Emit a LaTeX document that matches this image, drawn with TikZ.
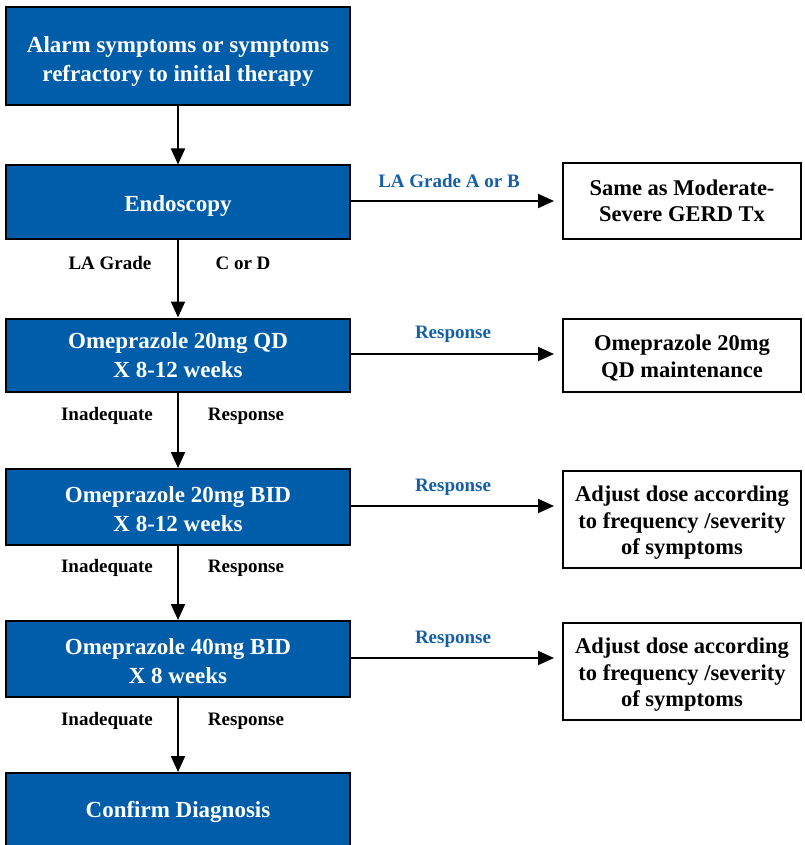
\documentclass[tikz,border=0pt]{standalone}
\usepackage{fontspec}
\setmainfont{Liberation Serif}
\usetikzlibrary{arrows.meta}
\definecolor{boxblue}{RGB}{0,93,170}
\definecolor{lblblue}{RGB}{20,95,170}
\begin{document}
\begin{tikzpicture}[x=1pt,y=-1pt,
  bluebox/.style={draw=black,line width=2pt,fill=boxblue,minimum width=344pt,inner sep=0pt},
  bluetxt/.style={text=white,font=\bfseries\fontsize{23}{29}\selectfont,align=center,inner sep=0pt},
  whitebox/.style={draw=black,line width=2pt,fill=white,minimum width=238pt,inner sep=0pt},
  whitetxt/.style={text=black,font=\bfseries\fontsize{22.5}{26.5}\selectfont,align=center,inner sep=0pt},
  arr/.style={line width=2pt,-{Triangle[length=16pt,width=14pt]}},
  lbl/.style={font=\bfseries\fontsize{19}{22}\selectfont,text=black},
  blbl/.style={font=\bfseries\fontsize{19}{22}\selectfont,text=lblblue}]
\useasboundingbox (0,0) rectangle (804,845);
\clip (0,0) rectangle (804,845);
% blue boxes
\node[bluebox,minimum height=98pt] (b1) at (178,56) {};
\node[bluebox,minimum height=73pt] (b2) at (178,202) {};
\node[bluebox,minimum height=73pt] (b3) at (178,355) {};
\node[bluebox,minimum height=76pt] (b4) at (178,507) {};
\node[bluebox,minimum height=76pt] (b5) at (178,659) {};
\node[bluebox,minimum height=80pt,anchor=north] (b6) at (178,772) {};
\node[bluetxt] (t1) at ([yshift=-6pt]b1.center) {Alarm symptoms or symptoms\\refractory to initial therapy};
\node[bluetxt] (t2) at ([yshift=-4pt]b2.center) {Endoscopy};
\node[bluetxt] (t3) at ([yshift=0pt]b3.center) {Omeprazole 20mg QD\\X 8-12 weeks};
\node[bluetxt] (t4) at ([yshift=-2pt]b4.center) {Omeprazole 20mg BID\\X 8-12 weeks};
\node[bluetxt] (t5) at ([yshift=-2pt]b5.center) {Omeprazole 40mg BID\\X 8 weeks};
\node[bluetxt] (t6) at (178,812) {Confirm Diagnosis};
% white boxes
\node[whitebox,minimum height=75pt] (r1) at (682,201) {};
\node[whitebox,minimum height=73pt] (r2) at (682,355) {};
\node[whitebox,minimum height=97pt] (r3) at (682,519) {};
\node[whitebox,minimum height=97pt] (r4) at (682,671) {};
\node[whitetxt] (s1) at ([yshift=0pt]r1.center) {Same as Moderate-\\Severe GERD Tx};
\node[whitetxt] (s2) at ([yshift=-3pt]r2.center) {Omeprazole 20mg\\QD maintenance};
\node[whitetxt] (s3) at ([yshift=-4pt]r3.center) {Adjust dose according\\to frequency /severity\\of symptoms};
\node[whitetxt] (s4) at ([yshift=-4pt]r4.center) {Adjust dose according\\to frequency /severity\\of symptoms};
% vertical arrows
\draw[arr] (b1.south) -- (b2.north);
\draw[arr] (b2.south) -- (b3.north);
\draw[arr] (b3.south) -- (b4.north);
\draw[arr] (b4.south) -- (b5.north);
\draw[arr] (b5.south) -- (b6.north);
% horizontal arrows
\coordinate (h1) at (350,201);
\coordinate (h2) at (350,354);
\coordinate (h3) at (350,506);
\coordinate (h4) at (350,658);
\draw[arr] (h1) -- ([xshift=-8pt]h1 -| r1.west);
\draw[arr] (h2) -- ([xshift=-8pt]h2 -| r2.west);
\draw[arr] (h3) -- ([xshift=-8pt]h3 -| r3.west);
\draw[arr] (h4) -- ([xshift=-8pt]h4 -| r4.west);
% labels
\node[blbl] (l1) at (449,181) {LA Grade A or B};
\node[blbl] (l2) at (453,334) {Response};
\node[blbl] (l3) at (453,487) {Response};
\node[blbl] (l4) at (453,639) {Response};
\node[lbl] (v1a) at (110,263) {LA Grade};
\node[lbl] (v1b) at (243,263) {C or D};
\node[lbl] (v2a) at (107,416) {Inadequate};
\node[lbl] (v2b) at (246,416) {Response};
\node[lbl] (v3a) at (107,568) {Inadequate};
\node[lbl] (v3b) at (246,568) {Response};
\node[lbl] (v4a) at (107,721) {Inadequate};
\node[lbl] (v4b) at (246,721) {Response};
\end{tikzpicture}
\end{document}
